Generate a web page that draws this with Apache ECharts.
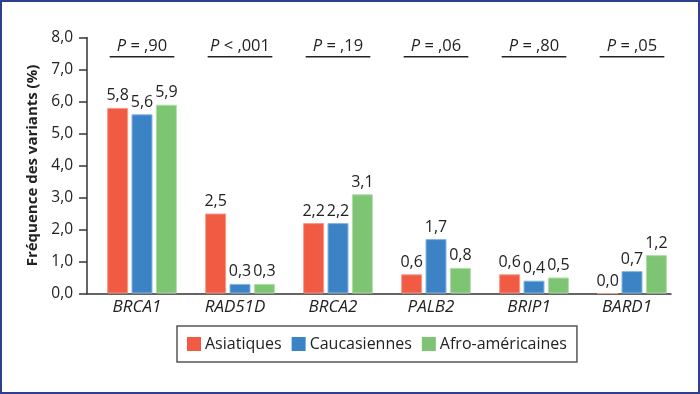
<!DOCTYPE html>
<html>
<head>
<meta charset="utf-8">
<script src="https://cdn.jsdelivr.net/npm/echarts@6/dist/echarts.min.js"></script>
<style>
html,body{margin:0;padding:0;background:#fff;}
#c{width:700px;height:394px;}
</style>
</head>
<body>
<div id="c"></div>
<script>
const categories = ['BRCA1', 'RAD51D', 'BRCA2', 'PALB2', 'BRIP1', 'BARD1'];
const asiatiques = [5.8, 2.5, 2.2, 0.6, 0.6, 0.0];
const caucasiennes = [5.6, 0.3, 2.2, 1.7, 0.4, 0.7];
const afroAmericaines = [5.9, 0.3, 3.1, 0.8, 0.5, 1.2];
const pValues = ['= ,90', '< ,001', '= ,19', '= ,06', '= ,80', '= ,05'];
const pLevel = 7.4;
const yMin = 0, yMax = 8, yStep = 1;

const FONT = 'Open Sans';
const TXT = '#222';
const fmt = v => v.toFixed(1).replace('.', ',');

const colors = ['#F15B43', '#3C83C6', '#7DC573'];
const borders = ['#F79A88', '#86B6E2', '#B0DDA8'];

function barSeries(name, data, i) {
  return {
    name: name, type: 'bar', data: data,
    xAxisIndex: 0, yAxisIndex: 0,
    barWidth: 21, barGap: '16%',
    itemStyle: { color: colors[i], borderColor: borders[i], borderWidth: 1 },
    label: {
      show: true, position: 'top', distance: 4,
      color: TXT, fontFamily: FONT, fontSize: 16,
      formatter: p => fmt(p.value)
    }
  };
}

const chart = echarts.init(document.getElementById('c'), null, { renderer: 'canvas' });
chart.setOption({
  animation: false,
  color: colors,
  textStyle: { fontFamily: FONT },
  graphic: [{
    type: 'rect', silent: true, z: 100,
    shape: { x: 1, y: 1, width: 698, height: 392 },
    style: { fill: 'none', stroke: '#2F3F8F', lineWidth: 2 }
  }],
  grid: [
    { left: 93, right: 19, top: 37.5, bottom: 100.5, outerBoundsMode: 'none' },
    { left: 87, right: 29, top: 37.5, bottom: 100.5, outerBoundsMode: 'none' }
  ],
  legend: {
    data: ['Asiatiques', 'Caucasiennes', 'Afro-américaines'],
    left: 177, top: 326,
    padding: [10, 10, 10, 10],
    borderColor: '#555', borderWidth: 1.5,
    itemWidth: 14, itemHeight: 14, itemGap: 10,
    icon: 'rect',
    itemStyle: { borderWidth: 0 },
    textStyle: { color: TXT, fontFamily: FONT, fontSize: 16, padding: [0, 0, 0, -1] }
  },
  xAxis: [
    {
      gridIndex: 0, type: 'category', data: categories,
      axisLine: { show: false }, axisTick: { show: false },
      axisLabel: { color: TXT, fontFamily: FONT, fontSize: 17, fontStyle: 'italic', margin: 5, padding: [0, 10, 0, 0] },
      splitLine: { show: false }
    },
    {
      gridIndex: 1, type: 'value', min: 0, max: 1,
      axisLine: { show: true, lineStyle: { color: '#333', width: 1.5 } },
      axisTick: { show: false }, axisLabel: { show: false }, splitLine: { show: false }
    }
  ],
  yAxis: [
    { gridIndex: 0, type: 'value', min: yMin, max: yMax, interval: yStep, show: false },
    {
      gridIndex: 1, type: 'value', min: yMin, max: yMax, interval: yStep,
      name: 'Fréquence des variants (%)', nameLocation: 'middle', nameGap: 37,
      nameTextStyle: { color: TXT, fontFamily: FONT, fontSize: 15, fontWeight: 'bold' },
      axisLine: { show: true, lineStyle: { color: '#333', width: 1.5 } },
      axisTick: { show: true, length: 8, lineStyle: { color: '#333', width: 1.5 } },
      axisLabel: { color: TXT, fontFamily: FONT, fontSize: 15.5, margin: 14, formatter: v => fmt(v) },
      splitLine: { show: false }
    }
  ],
  series: [
    barSeries('Asiatiques', asiatiques, 0),
    barSeries('Caucasiennes', caucasiennes, 1),
    barSeries('Afro-américaines', afroAmericaines, 2),
    {
      type: 'custom', name: 'p', xAxisIndex: 0, yAxisIndex: 0, silent: true,
      data: categories.map((c, i) => [i, pLevel]),
      renderItem: function (params, api) {
        const i = api.value(0);
        const pt = api.coord([i, api.value(1)]);
        const w = api.size([1, 0])[0] * 0.66;
        return {
          type: 'group',
          children: [
            {
              type: 'text',
              x: pt[0], y: pt[1] - 2,
              style: {
                text: '{i|P} ' + pValues[i],
                align: 'center', verticalAlign: 'bottom',
                fill: TXT, fontFamily: FONT, fontSize: 16.5,
                rich: {
                  i: { fontStyle: 'italic', fontFamily: FONT, fontSize: 16.5, fill: TXT },
                }
              }
            },
            {
              type: 'line',
              shape: { x1: pt[0] - w / 2, y1: pt[1], x2: pt[0] + w / 2, y2: pt[1] },
              style: { stroke: '#222', lineWidth: 1.5 }
            }
          ]
        };
      }
    }
  ]
});
</script>
</body>
</html>
